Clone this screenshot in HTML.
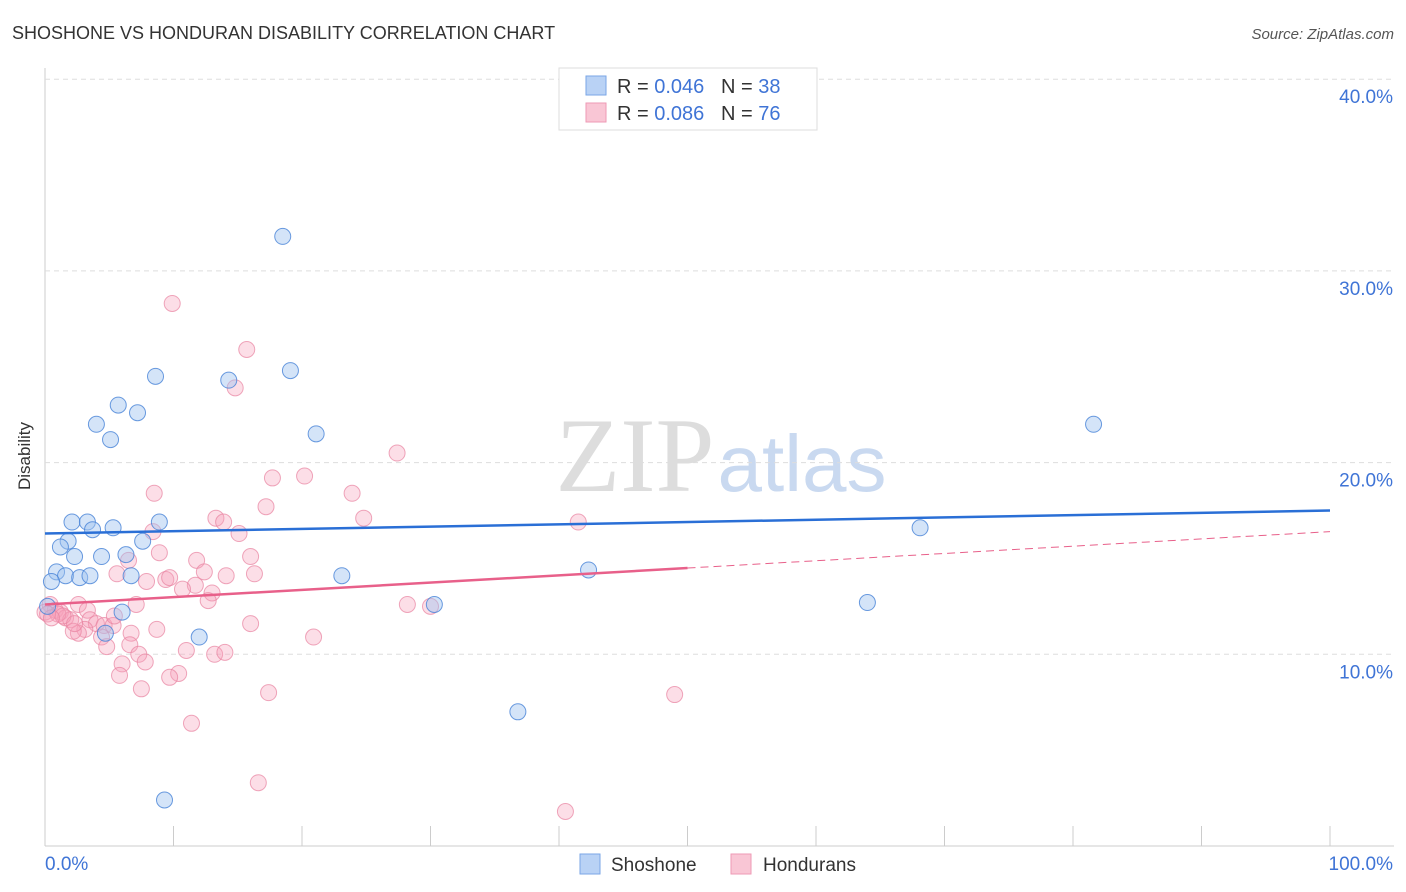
<!DOCTYPE html>
<html><head><meta charset="utf-8"><style>
body{margin:0;background:#fff;font-family:"Liberation Sans",sans-serif;}
svg{display:block}
</style></head><body>
<svg id="c" width="1406" height="892">
<text x="12" y="39" font-size="18" fill="#333">SHOSHONE VS HONDURAN DISABILITY CORRELATION CHART</text>
<text x="1394" y="39" font-size="15" fill="#555" text-anchor="end" font-style="italic">Source: ZipAtlas.com</text>
<text x="30" y="456" font-size="17" fill="#333" text-anchor="middle" transform="rotate(-90 30 456)">Disability</text>
<g><text x="635" y="491" font-size="106" fill="#ddd" font-family="Liberation Serif,serif" text-anchor="middle">ZIP</text><text x="802" y="491" font-size="80" fill="#c9d9f0" text-anchor="middle">atlas</text></g>
<g id="grid"></g><g id="pts"></g><g id="lines"></g>
<g>
<rect x="559" y="68" width="258" height="62" fill="#fff" stroke="#ddd"/>
<rect x="586" y="76" width="20" height="19" fill="#b9d2f5" stroke="#7aa6e6"/>
<rect x="586" y="103" width="20" height="19" fill="#f9c6d5" stroke="#ee9ab5"/>
<text x="617" y="93" font-size="20" fill="#333">R = <tspan fill="#3f74d6">0.046</tspan>&#160;&#160;&#160;N = <tspan fill="#3f74d6">38</tspan></text>
<text x="617" y="120" font-size="20" fill="#333">R = <tspan fill="#3f74d6">0.086</tspan>&#160;&#160;&#160;N = <tspan fill="#3f74d6">76</tspan></text>
</g>
<g>
<rect x="580" y="854" width="20" height="20" fill="#b9d2f5" stroke="#7aa6e6"/>
<text x="611" y="871" font-size="19" fill="#333">Shoshone</text>
<rect x="731" y="854" width="20" height="20" fill="#f9c6d5" stroke="#ee9ab5"/>
<text x="763" y="871" font-size="19" fill="#333">Hondurans</text>
</g>
</svg>
<script>
const yTicks=[10,20,30,40];
const yTickLabels=["10.0%","20.0%","30.0%","40.0%"];
const shoX=[18.5,8.6,14.3,19.1,5.7,7.2,4.0,5.1,21.1,81.6,2.1,3.3,5.3,3.7,8.9,1.8,1.2,7.6,2.3,4.4,6.3,0.9,1.6,2.7,3.5,6.7,0.5,23.1,42.3,6.0,30.3,64.0,68.1,12.0,4.7,36.8,9.3,0.2];
const shoY=[31.8,24.5,24.3,24.8,23.0,22.6,22.0,21.2,21.5,22.0,16.9,16.9,16.6,16.5,16.9,15.9,15.6,15.9,15.1,15.1,15.2,14.3,14.1,14.0,14.1,14.1,13.8,14.1,14.4,12.2,12.6,12.7,16.6,10.9,11.1,7.0,2.4,12.5];
const honX=[9.9,15.7,14.8,27.4,8.5,23.9,17.7,20.2,17.2,13.3,13.9,24.8,41.5,15.1,8.4,8.9,11.8,16.0,6.5,5.6,12.4,14.1,16.3,9.4,9.7,11.7,13.0,7.9,10.7,12.7,7.1,28.2,30.0,2.6,3.3,0.4,0.8,1.2,0,1.6,2.0,3.5,4.0,3.1,4.6,5.3,2.6,2.2,4.4,6.7,8.7,5.4,16.0,20.9,6.6,4.8,11.0,13.2,14.0,7.3,6.0,7.8,10.4,5.8,9.7,7.5,17.4,49.0,11.4,16.6,40.5,1.0,1.4,0.2,0.5,2.3];
const honY=[28.3,25.9,23.9,20.5,18.4,18.4,19.2,19.3,17.7,17.1,16.9,17.1,16.9,16.3,16.4,15.3,14.9,15.1,14.9,14.2,14.3,14.1,14.2,13.9,14.0,13.6,13.2,13.8,13.4,12.8,12.6,12.6,12.5,12.6,12.3,12.6,12.3,12.2,12.2,11.9,11.8,11.8,11.6,11.3,11.5,11.5,11.1,11.2,10.9,11.1,11.3,12.0,11.6,10.9,10.5,10.4,10.2,10.0,10.1,10.0,9.5,9.6,9.0,8.9,8.8,8.2,8.0,7.9,6.4,3.3,1.8,12.1,12.0,12.1,11.9,11.6];
const shoTrend=[16.3,17.5];
const honTrend=[12.6,16.4];
const honSolidEnd=50;
const X0=45,X1=1330,Y0=846,YS=19.17;
const xs=v=>X0+(X1-X0)*v/100, ys=v=>Y0-YS*v;
const NS="http://www.w3.org/2000/svg";
function mk(t,a,p){const e=document.createElementNS(NS,t);for(const k in a)e.setAttribute(k,a[k]);p.appendChild(e);return e;}
const g=document.getElementById('grid');
mk('line',{x1:X0,y1:68,x2:X0,y2:Y0,stroke:'#ccc'},g);
mk('line',{x1:X0,y1:Y0,x2:1394,y2:Y0,stroke:'#ccc'},g);
yTicks.forEach((t,i)=>{
 const gl=mk('line',{x1:X0,y1:ys(t),x2:1394,y2:ys(t),stroke:'#ddd','stroke-dasharray':'5,4'},g);
 
 
 const tx=mk('text',{x:1393,y:ys(t)+24,'font-size':19,fill:'#3f74d6','text-anchor':'end'},g);
 tx.textContent=yTickLabels[i];
 
 
});
for(let i=1;i<=10;i++){const tk=mk('line',{x1:xs(i*10),y1:826,x2:xs(i*10),y2:Y0,stroke:'#ccc'},g);
 
 }
const xl=mk('text',{x:45,y:870,'font-size':19,fill:'#3f74d6'},g);xl.textContent='0.0%';


const xr=mk('text',{x:1393,y:870,'font-size':19,fill:'#3f74d6','text-anchor':'end'},g);xr.textContent='100.0%';


const P=document.getElementById('pts');
honX.forEach((x,i)=>{const c=mk('circle',{cx:xs(x),cy:ys(honY[i]),r:8,fill:'rgba(245,160,185,0.35)',stroke:'rgba(232,130,160,0.7)','stroke-width':1},P);
 
 });
shoX.forEach((x,i)=>{const c=mk('circle',{cx:xs(x),cy:ys(shoY[i]),r:8,fill:'rgba(160,195,240,0.45)',stroke:'rgba(70,130,215,0.8)','stroke-width':1},P);
 
 });
const L=document.getElementById('lines');
const l1=mk('line',{x1:xs(0),y1:ys(shoTrend[0]),x2:xs(100),y2:ys(shoTrend[1]),stroke:'#2a6fd6','stroke-width':2.5},L);


const hm=honTrend[0]+(honTrend[1]-honTrend[0])*honSolidEnd/100;
const l2=mk('line',{x1:xs(0),y1:ys(honTrend[0]),x2:xs(honSolidEnd),y2:ys(hm),stroke:'#e8608a','stroke-width':2.5},L);


const l3=mk('line',{x1:xs(honSolidEnd),y1:ys(hm),x2:xs(100),y2:ys(honTrend[1]),stroke:'#e8608a','stroke-width':1,'stroke-dasharray':'8,5'},L);


</script>
</body></html>
